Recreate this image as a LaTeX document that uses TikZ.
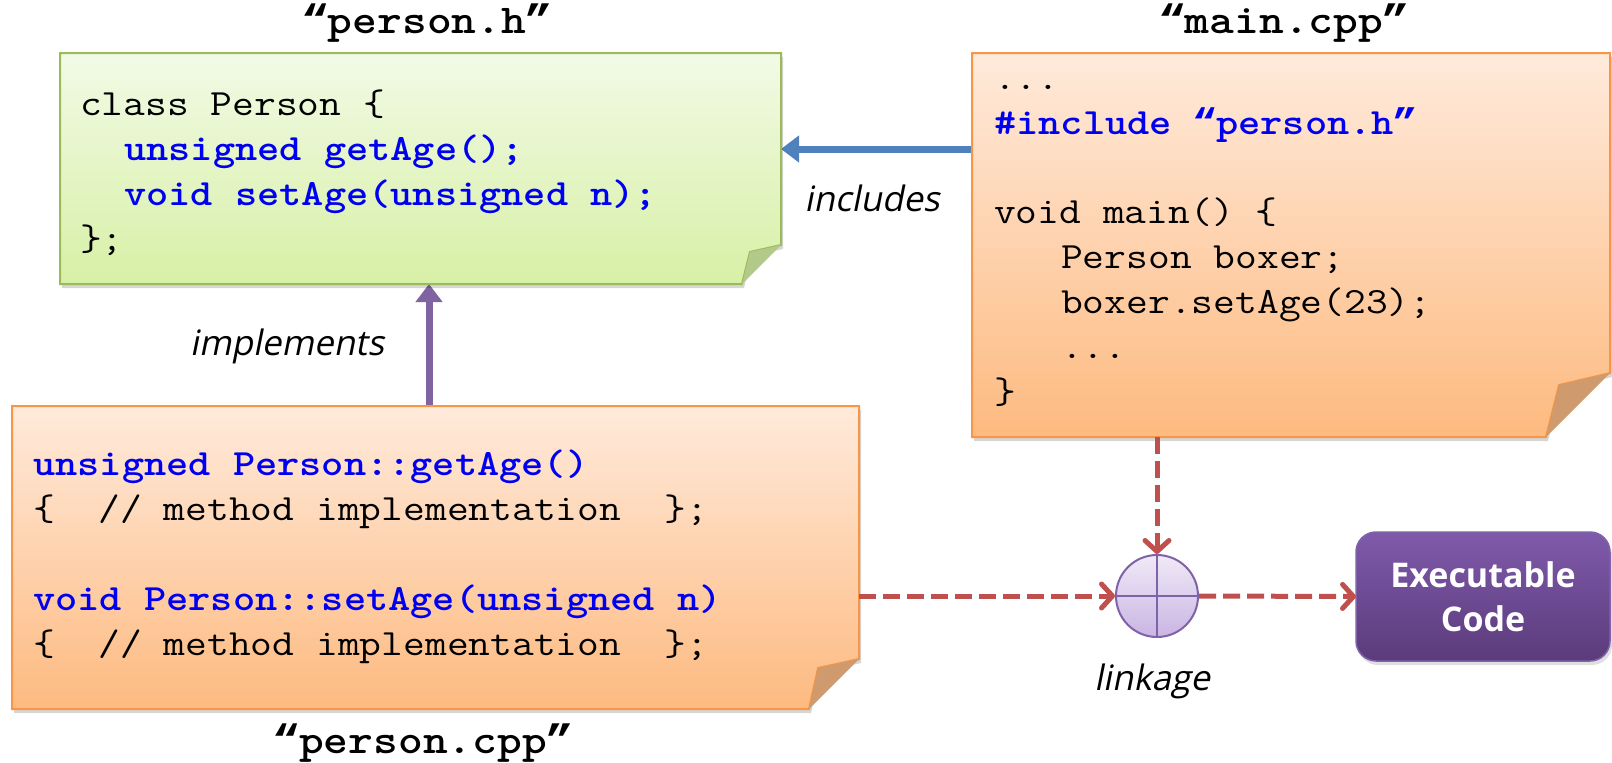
\documentclass[tikz,border=0pt]{standalone}
\usepackage{fontspec}
\newfontfamily\lblfont[FakeSlant=0.2]{Open Sans}
\newfontfamily\exfont{Open Sans}
\newfontfamily\qfont{Liberation Mono}
\usetikzlibrary{arrows.meta,calc,shadows}
\definecolor{gtop}{HTML}{F2FAE6}
\definecolor{gbot}{HTML}{D7F0A6}
\definecolor{gline}{HTML}{9BBB59}
\definecolor{gfold}{HTML}{B3C98A}
\definecolor{otop}{HTML}{FFEADB}
\definecolor{obot}{HTML}{FDBA80}
\definecolor{oline}{HTML}{F79646}
\definecolor{ofold}{HTML}{CF9A6D}
\definecolor{codeblue}{HTML}{0000F0}
\definecolor{arrblue}{HTML}{4F81BD}
\definecolor{arrpurple}{HTML}{8064A2}
\definecolor{linkred}{HTML}{C0504D}
\definecolor{ctop}{HTML}{F0EAF7}
\definecolor{cbot}{HTML}{C9B5E3}
\definecolor{cline}{HTML}{7F62A8}
\definecolor{etop}{HTML}{7F5AAB}
\definecolor{ebot}{HTML}{5B3B7B}
\newcommand\kwd[1]{{\color{codeblue}\bfseries #1}}
\newcommand\cw[1]{\scalebox{1.143}[1]{#1}}
\newcommand\tw[1]{\scalebox{1.15}[1]{#1}}
\newcommand\oq{\makebox[0.525em]{\qfont “}}
\newcommand\cq{\makebox[0.525em]{\qfont ”}}
\tikzset{
  boxframe/.style={rectangle, inner sep=0pt, outer sep=0pt},
  notepath/.style n args={4}{insert path={(#1.north west) -- (#1.north east) -- ($(#1.south east)+(0,-#2)$) -- ($(#1.south east)+(-#3,-#4)$) -- ($(#1.south east)+(-#2,0)$) -- (#1.south west) -- cycle}},
  foldpath/.style n args={4}{insert path={($(#1.south east)+(0,-#2)$) -- ($(#1.south east)+(-#3,-#4)$) -- ($(#1.south east)+(-#2,0)$) -- cycle}},
  noteshadow/.style={fill=black, opacity=0.16, transform canvas={xshift=2pt,yshift=-4pt}},
  greennote/.style={top color=gtop, bottom color=gbot, draw=gline, line width=2pt},
  orangenote/.style={top color=otop, bottom color=obot, draw=oline, line width=2pt},
  code/.style={anchor=base west, inner sep=0pt, font=\ttfamily\fontsize{37}{44}\selectfont},
  title/.style={anchor=base, inner sep=0pt, font=\ttfamily\bfseries\fontsize{41}{41}\selectfont},
  lbl/.style={anchor=base, inner sep=0pt, font=\lblfont\fontsize{35}{35}\selectfont},
  bluearrow/.style={draw=arrblue, line width=7pt, -{Triangle[length=18pt,width=26pt]}},
  purplearrow/.style={draw=arrpurple, line width=7pt, -{Triangle[length=18pt,width=26pt]}},
  reddash/.style={draw=linkred, line width=5pt, dash pattern=on 17pt off 7pt, -{Straight Barb[length=11pt,width=24pt,line width=5pt,round]}},
}
\begin{document}
\begin{tikzpicture}[x=1pt,y=-1pt]
\useasboundingbox (0,0) rectangle (1612,763);
\fill[white] (0,0) rectangle (1612,763);
% frames
\node[boxframe, minimum width=721pt, minimum height=231pt] (hdr) at (420.5,168.5) {};
\node[boxframe, minimum width=638pt, minimum height=384pt] (main) at (1291,245) {};
\node[boxframe, minimum width=847pt, minimum height=303pt] (impl) at (435.5,557.5) {};
\coordinate (px) at (429,0);
\coordinate (incl) at ($(main.north west)+(0,96)$);
% connectors
\draw[bluearrow] (incl) -- (incl -| hdr.east);
\draw[purplearrow] (impl.north -| px) -- (hdr.south -| px);
% notes
\fill[noteshadow, notepath={hdr}{39}{31}{32}];
\fill[noteshadow, notepath={main}{64}{51}{52}];
\fill[noteshadow, notepath={impl}{50}{41}{41}];
\path[greennote, notepath={hdr}{39}{31}{32}];
\fill[gfold, foldpath={hdr}{39}{31}{32}];
\path[orangenote, notepath={main}{64}{51}{52}];
\fill[ofold, foldpath={main}{64}{51}{52}];
\path[orangenote, notepath={impl}{50}{41}{41}];
\fill[ofold, foldpath={impl}{50}{41}{41}];
% linkage and executable
\node[circle, minimum size=82pt, inner sep=0pt, draw=cline, line width=2pt, top color=ctop, bottom color=cbot] (link) at (1157,596) {};
\draw[cline, line width=2pt] (link.north) -- (link.south) (link.west) -- (link.east);
\node[boxframe, minimum width=254pt, minimum height=129pt, rounded corners=20pt, top color=etop, bottom color=ebot, draw=cline, line width=1.5pt, drop shadow={opacity=0.25, shadow xshift=2pt, shadow yshift=-4pt}, text=white, align=center, font=\exfont\bfseries\fontsize{34}{44}\selectfont] (exe) at (1483,596.5) {Executable\\Code};
\draw[reddash] (link |- main.south) -- (link.north);
\draw[reddash] (impl.east |- link) -- (link.west);
\draw[reddash] (link.east) -- (exe.west);
% titles and labels
\node[title] (th) at (427,33) {\tw{\oq person.h\cq}};
\node[title] (tm) at (1284,33) {\tw{\oq main.cpp\cq}};
\node[title] (tp) at (423,753) {\tw{\oq person.cpp\cq}};
\node[lbl] (li) at (872,211) {includes};
\node[lbl] (lm) at (287,355) {implements};
\node[lbl] (ll) at (1152,690) {linkage};
% code: person.h
\node[code] (h1) at (80,115) {\cw{class Person \{}};
\node[code] (h2) at (124,160) {\cw{\kwd{unsigned getAge();}}};
\node[code] (h3) at (124,205) {\cw{\kwd{void setAge(unsigned n);}}};
\node[code] (h4) at (80,250) {\cw{\};}};
% code: main.cpp
\node[code] (m1) at (994,89) {\cw{...}};
\node[code] (m2) at (994,134) {\cw{\kwd{\#include \oq person.h\cq}}};
\node[code] (m3) at (994,223) {\cw{void main() \{}};
\node[code] (m4) at (1061,268) {\cw{Person boxer;}};
\node[code] (m5) at (1061,313) {\cw{boxer.setAge(23);}};
\node[code] (m6) at (1061,358) {\cw{...}};
\node[code] (m7) at (994,403) {\cw{\}}};
% code: person.cpp
\node[code] (p1) at (33,475) {\cw{\kwd{unsigned Person::getAge()}}};
\node[code] (p2) at (33,520) {\cw{\{\ \ //\ method\ implementation\ \ \};}};
\node[code] (p3) at (33,610) {\cw{\kwd{void Person::setAge(unsigned n)}}};
\node[code] (p4) at (33,655) {\cw{\{\ \ //\ method\ implementation\ \ \};}};
\end{tikzpicture}
\end{document}
